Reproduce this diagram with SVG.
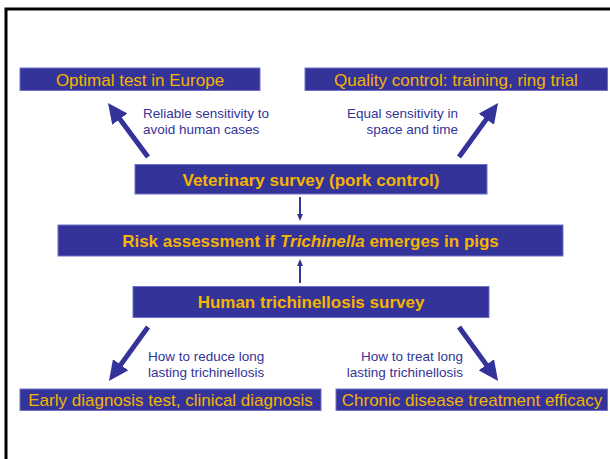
<svg xmlns="http://www.w3.org/2000/svg" width="610" height="459" viewBox="0 0 610 459">
<style>
.box{fill:#333399;stroke:#7070c8;stroke-width:1}
.t{font-family:"Liberation Sans",Arial,sans-serif;font-size:17px;fill:#F5B400;text-anchor:middle}
.b{font-weight:bold}
.lbl{font-family:"Liberation Sans",Arial,sans-serif;font-size:13.5px;fill:#333399}
.big{stroke:#333399;stroke-width:5;fill:none}
.small{stroke:#333399;stroke-width:2;fill:none}
</style>
<defs>
<marker id="ah" markerUnits="userSpaceOnUse" markerWidth="20" markerHeight="19" refX="2" refY="9.5" orient="auto" viewBox="0 0 20 19">
<path d="M0,0 L20,9.5 L0,19 z" fill="#333399"/>
</marker>
<marker id="as" markerUnits="userSpaceOnUse" markerWidth="7" markerHeight="6" refX="1" refY="3" orient="auto" viewBox="0 0 7 6">
<path d="M0,0 L7,3 L0,6 z" fill="#333399"/>
</marker>
</defs>
<rect x="0" y="0" width="610" height="459" fill="#fff"/>
<rect x="6" y="9" width="700" height="500" fill="none" stroke="#000" stroke-width="3"/>

<g id="optimal">
<rect class="box" x="20" y="68" width="240" height="22.5"/>
<text class="t" x="140" y="86">Optimal test in Europe</text>
</g>
<g id="quality">
<rect class="box" x="305" y="68" width="302.5" height="22.5"/>
<text class="t" x="456" y="86">Quality control: training, ring trial</text>
</g>
<g id="veterinary">
<rect class="box" x="135" y="164.5" width="352" height="29.5"/>
<text class="t b" x="311" y="185.5">Veterinary survey (pork control)</text>
</g>
<g id="risk">
<rect class="box" x="58" y="225" width="505" height="31"/>
<text class="t b" x="310.5" y="247">Risk assessment if <tspan font-style="italic">Trichinella</tspan> emerges in pigs</text>
</g>
<g id="human">
<rect class="box" x="133" y="286.5" width="356" height="31"/>
<text class="t b" x="311" y="308">Human trichinellosis survey</text>
</g>
<g id="early">
<rect class="box" x="20" y="389" width="301" height="21.5"/>
<text class="t" x="170.5" y="406">Early diagnosis test, clinical diagnosis</text>
</g>
<g id="chronic">
<rect class="box" x="336" y="389" width="271.5" height="21.5"/>
<text class="t" x="472" y="406">Chronic disease treatment efficacy</text>
</g>

<g id="labels">
<text class="lbl" x="143" y="118">Reliable sensitivity to</text>
<text class="lbl" x="143" y="134">avoid human cases</text>
<text class="lbl" x="458" y="118" text-anchor="end">Equal sensitivity in</text>
<text class="lbl" x="458" y="134" text-anchor="end">space and time</text>
<text class="lbl" x="148" y="360.5">How to reduce long</text>
<text class="lbl" x="148" y="376.5">lasting trichinellosis</text>
<text class="lbl" x="463" y="360.5" text-anchor="end">How to treat long</text>
<text class="lbl" x="463" y="376.5" text-anchor="end">lasting trichinellosis</text>
</g>

<g id="connectors">
<line class="big" x1="148" y1="157" x2="118.7" y2="117.5" marker-end="url(#ah)"/>
<line class="big" x1="459" y1="157" x2="487.5" y2="117.6" marker-end="url(#ah)"/>
<line class="big" x1="148" y1="327" x2="119.5" y2="366.4" marker-end="url(#ah)"/>
<line class="big" x1="459" y1="327" x2="487.5" y2="366.4" marker-end="url(#ah)"/>
<line class="small" x1="300" y1="197" x2="300" y2="215" marker-end="url(#as)"/>
<line class="small" x1="300" y1="283" x2="300" y2="265" marker-end="url(#as)"/>
</g>
</svg>
